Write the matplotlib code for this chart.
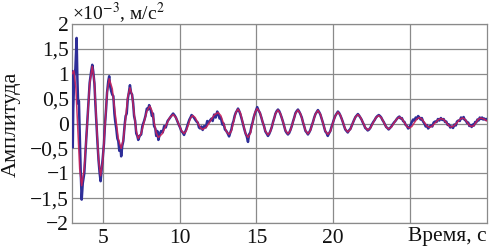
import matplotlib
matplotlib.use("Agg")
import matplotlib.pyplot as plt
from matplotlib.ticker import FuncFormatter

# ---------------- data ----------------
# fitted (smooth) curve
t_fit = [3.00, 3.12, 3.25, 3.375, 3.50, 3.63, 3.80, 3.98, 4.15, 4.32,
         4.46, 4.59, 4.73, 4.86, 5.00, 5.14, 5.28, 5.42, 5.62, 5.81,
         6.01, 6.20, 6.34, 6.49, 6.63, 6.77, 6.91, 7.04, 7.18, 7.31,
         7.50, 7.69, 7.87, 8.06, 8.20, 8.34, 8.48, 8.62, 8.86, 9.10,
         9.34, 9.58, 9.76, 9.94, 10.11, 10.29, 10.43, 10.57, 10.71, 10.85,
         11.01, 11.18, 11.34, 11.50, 11.75, 12.00, 12.25, 12.50, 12.68, 12.86,
         13.04, 13.22, 13.37, 13.51, 13.66, 13.80, 13.96, 14.13, 14.29, 14.45,
         14.60, 14.75, 14.90, 15.05, 15.23, 15.40, 15.58, 15.75, 15.91, 16.08,
         16.24, 16.40, 16.56, 16.73, 16.89, 17.05, 17.21, 17.38, 17.54, 17.70,
         17.86, 18.03, 18.19, 18.35, 18.51, 18.68, 18.84, 19.00, 19.16, 19.32,
         19.48, 19.64, 19.81, 19.97, 20.14, 20.30, 20.46, 20.62, 20.78, 20.94,
         21.11, 21.27, 21.44, 21.60, 21.76, 21.92, 22.08, 22.24, 22.42, 22.60,
         22.78, 22.96, 23.12, 23.28, 23.44, 23.60, 23.78, 23.95, 24.13, 24.30,
         24.46, 24.63, 24.79, 24.95, 25.11, 25.28, 25.44, 25.60, 25.76, 25.93,
         26.09, 26.25, 26.44, 26.63, 26.81, 27.00, 27.18, 27.35, 27.53, 27.70,
         27.88, 28.05, 28.23, 28.40, 28.55, 28.70, 28.85, 29.00, 29.15, 29.30,
         29.45, 29.60, 29.80, 30.00]
a_fit = [1.00, 1.06, 0.72, -0.10, -0.91, -1.25, -0.90, -0.05, 0.80, 1.15,
         0.83, 0.05, -0.73, -1.05, -0.76, -0.08, 0.61, 0.90, 0.70, 0.20,
         -0.30, -0.50, -0.32, 0.11, 0.54, 0.72, 0.57, 0.21, -0.15, -0.30,
         -0.20, 0.03, 0.25, 0.35, 0.26, 0.04, -0.19, -0.28, -0.21, -0.05,
         0.11, 0.18, 0.12, -0.01, -0.14, -0.20, -0.15, -0.02, 0.11, 0.16,
         0.12, 0.02, -0.08, -0.12, -0.07, 0.05, 0.17, 0.22, 0.16, 0.00,
         -0.16, -0.22, -0.15, 0.04, 0.22, 0.29, 0.21, 0.00, -0.20, -0.28,
         -0.20, 0.01, 0.22, 0.30, 0.22, 0.04, -0.15, -0.23, -0.16, 0.02,
         0.20, 0.27, 0.20, 0.03, -0.14, -0.21, -0.14, 0.03, 0.20, 0.27,
         0.20, 0.03, -0.14, -0.21, -0.14, 0.03, 0.19, 0.26, 0.19, 0.02,
         -0.15, -0.22, -0.16, 0.01, 0.16, 0.23, 0.17, 0.03, -0.11, -0.17,
         -0.12, 0.01, 0.13, 0.18, 0.13, 0.03, -0.08, -0.13, -0.09, 0.02,
         0.12, 0.16, 0.12, 0.03, -0.07, -0.11, -0.07, 0.01, 0.09, 0.13,
         0.10, 0.02, -0.06, -0.09, -0.06, 0.02, 0.09, 0.12, 0.09, 0.02,
         -0.05, -0.08, -0.05, 0.01, 0.07, 0.10, 0.08, 0.02, -0.05, -0.07,
         -0.04, 0.02, 0.08, 0.11, 0.09, 0.03, -0.04, -0.06, -0.04, 0.03,
         0.09, 0.11, 0.09, 0.05]

# measured (noisy) signal
t_meas = [3.00, 3.03, 3.05, 3.08, 3.15, 3.22, 3.30, 3.35, 3.40, 3.45,
          3.50, 3.56, 3.63, 3.70, 3.80, 3.90, 3.98, 4.08, 4.15, 4.25,
          4.32, 4.38, 4.46, 4.52, 4.59, 4.66, 4.73, 4.80, 4.86, 4.92,
          5.00, 5.08, 5.14, 5.22, 5.28, 5.36, 5.42, 5.48, 5.55, 5.62,
          5.69, 5.76, 5.81, 5.88, 5.95, 6.01, 6.08, 6.15, 6.20, 6.27,
          6.34, 6.42, 6.49, 6.56, 6.63, 6.70, 6.77, 6.84, 6.91, 6.98,
          7.04, 7.11, 7.18, 7.25, 7.31, 7.40, 7.50, 7.58, 7.69, 7.78,
          7.87, 7.95, 8.02, 8.10, 8.20, 8.27, 8.34, 8.42, 8.48, 8.55,
          8.62, 8.72, 8.80, 8.90, 9.00, 9.10, 9.22, 9.34, 9.45, 9.58,
          9.68, 9.76, 9.85, 9.94, 10.03, 10.11, 10.20, 10.29, 10.36, 10.43,
          10.50, 10.57, 10.64, 10.71, 10.78, 10.85, 10.93, 11.01, 11.10, 11.18,
          11.26, 11.34, 11.42, 11.50, 11.60, 11.70, 11.80, 11.90, 12.00, 12.08,
          12.15, 12.25, 12.35, 12.45, 12.52, 12.60, 12.68, 12.78, 12.86, 12.95,
          13.04, 13.13, 13.22, 13.30, 13.37, 13.45, 13.51, 13.58, 13.66, 13.74,
          13.80, 13.88, 13.96, 14.05, 14.13, 14.20, 14.29, 14.37, 14.45, 14.52,
          14.60, 14.68, 14.75, 14.82, 14.90, 14.98, 15.05, 15.14, 15.23, 15.32,
          15.40, 15.50, 15.58, 15.66, 15.75, 15.83, 15.91, 16.00, 16.08, 16.16,
          16.24, 16.32, 16.40, 16.48, 16.56, 16.64, 16.73, 16.81, 16.89, 16.97,
          17.05, 17.13, 17.21, 17.30, 17.38, 17.46, 17.54, 17.62, 17.70, 17.78,
          17.86, 17.95, 18.03, 18.11, 18.19, 18.27, 18.35, 18.43, 18.51, 18.60,
          18.68, 18.76, 18.84, 18.92, 19.00, 19.08, 19.16, 19.24, 19.32, 19.40,
          19.48, 19.56, 19.64, 19.72, 19.81, 19.89, 19.97, 20.05, 20.14, 20.22,
          20.30, 20.38, 20.46, 20.54, 20.62, 20.70, 20.78, 20.86, 20.94, 21.02,
          21.11, 21.19, 21.27, 21.35, 21.44, 21.52, 21.60, 21.68, 21.76, 21.84,
          21.92, 22.00, 22.08, 22.16, 22.24, 22.33, 22.42, 22.51, 22.60, 22.69,
          22.78, 22.87, 22.96, 23.04, 23.12, 23.20, 23.28, 23.36, 23.44, 23.52,
          23.60, 23.69, 23.78, 23.86, 23.95, 24.04, 24.13, 24.21, 24.30, 24.38,
          24.46, 24.54, 24.63, 24.71, 24.79, 24.87, 24.95, 25.03, 25.11, 25.19,
          25.28, 25.36, 25.44, 25.52, 25.60, 25.68, 25.76, 25.84, 25.93, 26.01,
          26.09, 26.17, 26.25, 26.34, 26.44, 26.53, 26.63, 26.72, 26.81, 26.90,
          27.00, 27.09, 27.18, 27.27, 27.35, 27.44, 27.53, 27.61, 27.70, 27.79,
          27.88, 27.97, 28.05, 28.14, 28.23, 28.31, 28.40, 28.48, 28.55, 28.63,
          28.70, 28.78, 28.85, 28.93, 29.00, 29.08, 29.15, 29.23, 29.30, 29.38,
          29.45, 29.53, 29.60, 29.68, 29.75, 29.83, 29.92, 30.00]
a_meas = [1.05, 1.00, -0.48, 0.30, 0.95, 1.10, 1.72, 0.90, 0.40, 0.45,
          -0.20, -0.90, -1.53, -1.20, -1.00, -0.45, -0.05, 0.45, 0.82, 1.05,
          1.18, 1.05, 0.80, 0.40, 0.00, -0.40, -0.75, -1.00, -1.16, -0.95,
          -0.70, -0.40, -0.05, 0.30, 0.62, 0.85, 0.95, 0.75, 0.65, 0.58,
          0.55, 0.20, 0.05, -0.10, -0.30, -0.35, -0.55, -0.45, -0.66, -0.45,
          -0.35, -0.05, 0.15, 0.20, 0.50, 0.62, 0.77, 0.62, 0.58, 0.40,
          0.15, 0.05, -0.20, -0.25, -0.33, -0.25, -0.22, -0.05, 0.05, 0.15,
          0.30, 0.28, 0.37, 0.30, 0.15, 0.20, -0.05, -0.10, -0.25, -0.15,
          -0.33, -0.20, -0.15, -0.18, -0.05, -0.08, 0.05, 0.10, 0.15, 0.20,
          0.16, 0.12, 0.05, -0.02, -0.08, -0.15, -0.18, -0.23, -0.17, -0.12,
          -0.05, 0.02, 0.08, 0.12, 0.17, 0.15, 0.12, 0.08, 0.04, 0.02,
          -0.08, -0.10, -0.06, -0.13, -0.05, -0.08, 0.05, 0.02, 0.07, 0.10,
          0.05, 0.18, 0.12, 0.24, 0.20, 0.10, 0.12, -0.02, 0.00, -0.12,
          -0.15, -0.20, -0.26, -0.18, -0.12, 0.00, 0.05, 0.15, 0.22, 0.26,
          0.30, 0.25, 0.18, 0.08, -0.02, -0.10, -0.20, -0.26, -0.37, -0.22,
          -0.18, -0.05, 0.02, 0.12, 0.20, 0.27, 0.33, 0.26, 0.21, 0.12,
          0.03, -0.06, -0.16, -0.20, -0.25, -0.21, -0.15, -0.07, 0.03, 0.11,
          0.20, 0.25, 0.28, 0.25, 0.19, 0.12, 0.03, -0.06, -0.15, -0.19,
          -0.22, -0.19, -0.13, -0.05, 0.04, 0.12, 0.21, 0.25, 0.28, 0.24,
          0.19, 0.12, 0.02, -0.06, -0.15, -0.18, -0.22, -0.18, -0.13, -0.04,
          0.03, 0.12, 0.19, 0.23, 0.27, 0.23, 0.18, 0.10, 0.02, -0.07,
          -0.16, -0.19, -0.25, -0.20, -0.15, -0.06, 0.01, 0.09, 0.16, 0.20,
          0.24, 0.21, 0.16, 0.10, 0.03, -0.05, -0.12, -0.15, -0.18, -0.14,
          -0.11, -0.05, 0.01, 0.07, 0.13, 0.16, 0.19, 0.16, 0.12, 0.08,
          0.02, -0.03, -0.09, -0.11, -0.14, -0.12, -0.08, -0.02, 0.03, 0.07,
          0.12, 0.15, 0.17, 0.15, 0.12, 0.07, 0.03, -0.02, -0.07, -0.09,
          -0.12, -0.09, -0.06, -0.02, 0.02, 0.05, 0.09, 0.12, 0.14, 0.10,
          0.11, 0.05, 0.03, -0.03, -0.05, -0.10, -0.08, -0.03, 0.03, 0.08,
          0.06, 0.12, 0.09, 0.15, 0.12, 0.08, 0.11, 0.04, 0.00, -0.06,
          -0.03, -0.10, -0.07, -0.04, -0.06, 0.02, 0.04, 0.03, 0.09, 0.06,
          0.11, 0.07, 0.09, 0.03, 0.04, -0.03, -0.02, -0.08, -0.06, -0.09,
          -0.02, -0.04, 0.04, 0.06, 0.05, 0.12, 0.10, 0.13, 0.07, 0.06,
          0.01, 0.02, -0.05, -0.03, -0.07, -0.02, -0.04, 0.03, 0.02, 0.08,
          0.06, 0.12, 0.09, 0.12, 0.08, 0.10, 0.07, 0.09]

x_ticks = [5, 10, 15, 20]
y_ticks = [-2, -1.5, -1, -0.5, 0, 0.5, 1, 1.5, 2]
x_label = "Время, с"
y_label = "Амплитуда"
unit_label = "×10$^{-3}$, м/с$^{2}$"

# ---------------- style ----------------
plt.rcParams["font.family"] = ["Liberation Serif", "DejaVu Serif"]
plt.rcParams["mathtext.fontset"] = "stix"

W, H = 492, 249
fig = plt.figure(figsize=(W / 100, H / 100), dpi=100)
ax = fig.add_axes([72 / W, 1 - 223 / H, 415 / W, 199 / H])

ax.plot(t_meas, a_meas, color="#2e2e98", lw=1.8, zorder=3)
ax.plot(t_fit, a_fit, color="#c8205a", lw=1.1, alpha=0.9, zorder=4)

ax.set_xlim(3, 30)
ax.set_ylim(-2, 2)
ax.set_xticks(x_ticks + [25])
ax.set_xticklabels([str(v) for v in x_ticks] + [""])
ax.set_yticks(y_ticks)


def yfmt(v, pos):
    if abs(v) < 1e-9:
        return "0"
    s = ("%g" % abs(v)).replace(".", ",")
    return ("−" if v < 0 else "") + s


ax.yaxis.set_major_formatter(FuncFormatter(yfmt))
ax.tick_params(axis="both", length=0, labelsize=15.5, colors="#111111")
ax.tick_params(axis="y", pad=2)
ax.tick_params(axis="x", pad=4)

ax.grid(True, color="#8a8a8a", lw=0.9)
ax.set_axisbelow(True)
for s in ax.spines.values():
    s.set_color("#8a8a8a")
    s.set_linewidth(0.9)

ax.text(1.0, -4 / 199, x_label, transform=ax.transAxes, ha="right", va="top",
        fontsize=15.5, color="#111111")
fig.text(11 / W, 0.5, y_label, rotation=90, ha="center", va="center",
         fontsize=16, color="#111111")
fig.text(72 / W, 1 - 19 / H, unit_label, ha="left", va="baseline",
         fontsize=14, color="#111111")

fig.savefig("out.png", dpi=100)
